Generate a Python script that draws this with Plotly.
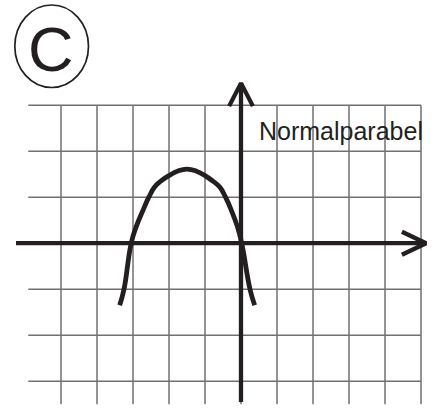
import plotly.graph_objects as go

# ---- data (grid units) ----
grid_x = [-5, -4, -3, -2, -1, 0, 1, 2, 3, 4, 5]
grid_y = [3, 2, 1, 0, -1, -2, -3]
curve_x = [-3.37, -3.25, -3.05, -2.91, -2.72, -2.56, -2.40, -2.21, -2.0, -1.75, -1.5,
           -1.25, -1.0, -0.80, -0.59, -0.43, -0.27, -0.10, 0.02, 0.25, 0.38]
curve_y = [-1.35, -1.0, 0.0, 0.36, 0.72, 1.0, 1.22, 1.36, 1.47, 1.57, 1.61,
           1.57, 1.47, 1.36, 1.22, 1.0, 0.72, 0.36, 0.0, -1.0, -1.35]
label_text = "Normalparabel"
panel_letter = "C"

INK = "#231f20"
GRID = "#707070"

# pixel mapping: origin at (241, 243.2), 36 px per x unit, 46 px per y unit
W, H = 441, 410
OX, OY, SX, SY = 241.0, 243.2, 36.0, 46.0
xr = [(0 - OX) / SX, (W - OX) / SX]
yr = [(OY - H) / SY, (OY - 0) / SY]

fig = go.Figure()

# grid
gx, gy = [], []
y_top, y_bot = max(grid_y), -3.5
for v in grid_x:
    gx += [v, v, None]
    gy += [y_top, y_bot, None]
x_left, x_right = -5.91, max(grid_x)
for v in grid_y:
    gx += [x_left, x_right, None]
    gy += [v, v, None]
fig.add_trace(go.Scatter(x=gx, y=gy, mode="lines", line=dict(color=GRID, width=1.5),
                         hoverinfo="skip", showlegend=False))

# axes with open arrowheads
fig.add_trace(go.Scatter(x=[-6.25, 5.14, None, 4.47, 5.14, 4.47],
                         y=[0, 0, None, 0.25, 0, -0.25],
                         mode="lines", line=dict(color=INK, width=4.3),
                         hoverinfo="skip", showlegend=False))
fig.add_trace(go.Scatter(x=[0, 0, None, -0.33, 0, 0.33],
                         y=[-3.45, 3.48, None, 2.98, 3.48, 2.98],
                         mode="lines", line=dict(color=INK, width=4.3),
                         hoverinfo="skip", showlegend=False))

# curve
fig.add_trace(go.Scatter(x=curve_x, y=curve_y, mode="lines",
                         line=dict(color=INK, width=4.8, shape="spline", smoothing=1.3),
                         hoverinfo="skip", showlegend=False))

# circled letter
fig.add_shape(type="circle", xref="x", yref="y",
              x0=(14.8 - OX) / SX, x1=(88.5 - OX) / SX,
              y0=(OY - 87.5) / SY, y1=(OY - 5.0) / SY,
              line=dict(color=INK, width=1.7))
fig.add_annotation(x=(51.2 - OX) / SX, y=(OY - 49.0) / SY, text=panel_letter,
                   showarrow=False, xanchor="center", yanchor="middle",
                   font=dict(family="Liberation Sans", size=63, color=INK))

fig.add_annotation(x=(256.5 - OX) / SX, y=(OY - 131.0) / SY, text=label_text,
                   showarrow=False, xanchor="left", yanchor="middle",
                   font=dict(family="Liberation Sans", size=25, color=INK))

fig.update_layout(width=W, height=H, margin=dict(l=0, r=0, t=0, b=0),
                  paper_bgcolor="white", plot_bgcolor="white",
                  xaxis=dict(range=xr, visible=False, fixedrange=True),
                  yaxis=dict(range=yr, visible=False, fixedrange=True))

fig.write_html("out.html", config={"displayModeBar": False},
               post_script="document.body.style.margin='0';document.body.style.padding='0';")
